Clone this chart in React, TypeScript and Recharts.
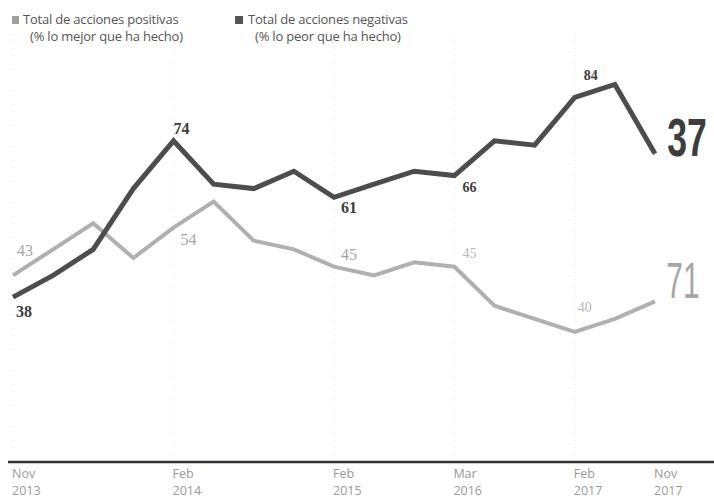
import React from "react";
import { LineChart, Line, XAxis, YAxis, LabelList, ReferenceLine } from "recharts";

const periods = ["Nov 2013", "", "", "", "Feb 2014", "", "", "", "Feb 2015", "", "", "Mar 2016", "", "", "Feb 2017", "", "Nov 2017"];
const positivas = [43, 49, 55, 47, 54, 60, 51, 49, 45, 43, 46, 45, 36, 33, 30, 33, 37];
const negativas = [38, 43, 49, 63, 74, 64, 63, 67, 61, 64, 67, 66, 74, 73, 84, 87, 71];
const positivasLabels = ["43", "", "", "", "54", "", "", "", "45", "", "", "45", "", "", "40", "", "71"];
const negativasLabels = ["38", "", "", "", "74", "", "", "", "61", "", "", "66", "", "", "84", "", "37"];

const DARK = "#4d4d4d";
const LIGHT = "#b0b0b0";

const data = periods.map((p, i) => ({
  i,
  period: p,
  pos: positivas[i],
  neg: negativas[i],
  posLabel: positivasLabels[i],
  negLabel: negativasLabels[i],
}));

// label offsets from the point, by index
const negOffsets: Record<number, [number, number]> = {
  0: [11, 14], 4: [8, -12], 8: [15, 10], 11: [15, 12], 14: [16, -22], 16: [32, -16],
};
const posOffsets: Record<number, [number, number]> = {
  0: [12, -25], 4: [15, 12], 8: [15, -12], 11: [15, -13], 14: [10, -24], 16: [28, -20],
};

const bigFont = "'Liberation Sans', Arial, sans-serif";
const numFont = "'Liberation Serif', 'DejaVu Serif', serif";

function makeLabel(offsets: Record<number, [number, number]>, color: string, dark: boolean) {
  return (props: any) => {
    const { x, y, value, index } = props;
    if (!value) return null;
    const off = offsets[index] || [0, 0];
    const cx = x + off[0];
    const cy = y + off[1];
    if (index === periods.length - 1) {
      return (
        <text
          transform={`translate(${cx},${cy}) scale(${dark ? 0.66 : 0.6},1)`}
          x={0}
          y={0}
          textAnchor="middle"
          dominantBaseline="central"
          fill={color}
          fontFamily={bigFont}
          fontSize={dark ? 54 : 50}
          fontWeight={dark ? 700 : 400}
        >
          {value}
        </text>
      );
    }
    const faint = index === 11 || index === 14;
    return (
      <text
        x={cx}
        y={cy}
        textAnchor="middle"
        dominantBaseline="central"
        fill={color}
        fontFamily={numFont}
        fontSize={faint ? 14 : 16}
        fontWeight={dark ? 700 : 400}
        opacity={faint && !dark ? 0.8 : 1}
      >
        {value}
      </text>
    );
  };
}

function PeriodTick(props: any) {
  const { x, y, payload } = props;
  const label = periods[payload.value];
  if (!label) return null;
  const [m, yr] = label.split(" ");
  const tx = x - 1;
  const style = { fill: "#9a9a9a", fontFamily: "'Open Sans', sans-serif", fontSize: 12.5 };
  return (
    <g>
      <text x={tx} y={y + 16} textAnchor="start" {...style}>{m}</text>
      <text x={tx} y={y + 33} textAnchor="start" {...style}>{yr}</text>
    </g>
  );
}

const gridIdx = [0, 4, 8, 11, 14];

const legendStyle: React.CSSProperties = {
  position: "absolute",
  top: 11,
  fontFamily: "'Open Sans', sans-serif",
  fontSize: 13,
  color: "#555",
  lineHeight: "17px",
  letterSpacing: -0.2,
};

export default function App() {
  return (
    <div style={{ position: "absolute", left: 0, top: 0, width: 714, height: 502, background: "#fff" }}>
      <div style={{ ...legendStyle, left: 12 }}>
        <span style={{ display: "inline-block", width: 7, height: 8, background: "#9e9e9e", marginRight: 4 }} />
        Total de acciones positivas
        <div style={{ paddingLeft: 18 }}>(% lo mejor que ha hecho)</div>
      </div>
      <div style={{ ...legendStyle, left: 235 }}>
        <span style={{ display: "inline-block", width: 8, height: 8, background: "#555", marginRight: 5 }} />
        Total de acciones negativas
        <div style={{ paddingLeft: 20 }}>(% lo peor que ha hecho)</div>
      </div>
      <div style={{ position: "absolute", left: 0, top: 0 }}>
        <LineChart width={714} height={502} data={data} margin={{ top: 28, right: 0, bottom: 0, left: 8 }}>
          <YAxis hide domain={[0, 100]} width={0} />
          <XAxis
            dataKey="i"
            type="category"
            interval={0}
            tickLine={false}
            tickSize={0}
            tickMargin={0}
            height={40}
            padding={{ left: 5, right: 59 }}
            axisLine={{ stroke: "#333", strokeWidth: 2.5 }}
            tick={<PeriodTick />}
          />
          {gridIdx.map((g) => (
            <ReferenceLine key={g} x={g} stroke="#e6e6e6" strokeDasharray="1 6" />
          ))}
          <Line
            dataKey="pos"
            stroke={LIGHT}
            strokeWidth={4}
            dot={false}
            strokeLinejoin="miter"
            isAnimationActive={false}
          >
            <LabelList dataKey="posLabel" content={makeLabel(posOffsets, "#a6a6a6", false)} />
          </Line>
          <Line
            dataKey="neg"
            stroke={DARK}
            strokeWidth={5}
            dot={false}
            strokeLinejoin="miter"
            isAnimationActive={false}
          >
            <LabelList dataKey="negLabel" content={makeLabel(negOffsets, "#3d3d3d", true)} />
          </Line>
        </LineChart>
      </div>
    </div>
  );
}
